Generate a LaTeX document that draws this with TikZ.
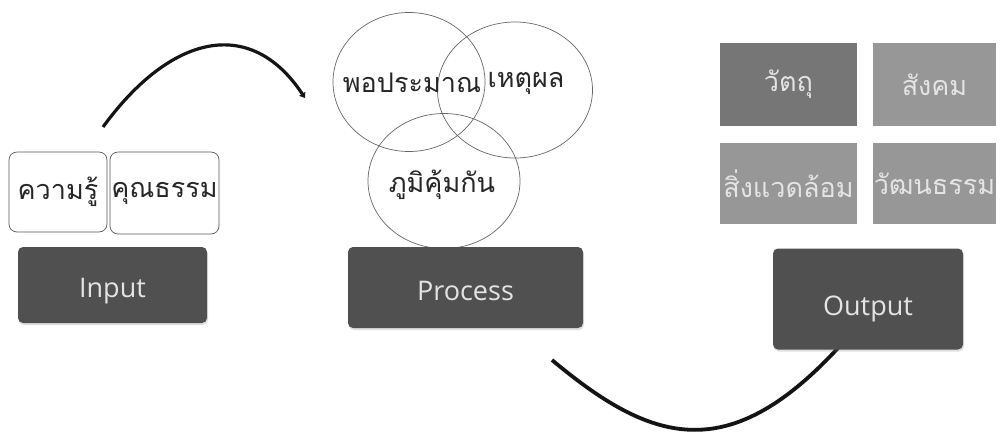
\documentclass[tikz,border=0pt]{standalone}
\usepackage{fontspec}
\setmainfont{Open Sans}
\newfontfamily\thaifont[Script=Thai]{Loma}
\usetikzlibrary{shapes.geometric,arrows.meta,shadows}
\definecolor{darkbg}{HTML}{505050}
\definecolor{gridA}{HTML}{767676}
\definecolor{gridB}{HTML}{979797}
\definecolor{lighttext}{HTML}{E4E4E4}
\begin{document}
\begin{tikzpicture}[x=1pt,y=-1pt,
  whitebox/.style={draw=black!65, line width=0.7pt, rounded corners=8pt, fill=white, inner sep=0pt,
    font=\thaifont\fontsize{27}{30}\selectfont, text=black!85},
  darkbox/.style={fill=darkbg, rounded corners=5pt, inner sep=0pt, text=lighttext,
    font=\fontsize{27}{32}\selectfont, text height=25pt, text depth=0pt,
    drop shadow={opacity=0.25, shadow xshift=1pt, shadow yshift=-2pt}},
  gridbox/.style={inner sep=0pt, text=lighttext, font=\thaifont\fontsize{27}{30}\selectfont},
  ring/.style={draw=black!60, line width=0.7pt, ellipse, inner sep=0pt},
  ringtext/.style={font=\thaifont\fontsize{27}{30}\selectfont, text=black!85, inner sep=0pt},
  arcline/.style={line width=3.2pt, black!92},
]
\useasboundingbox (0,0) rectangle (1006,432);
\fill[white] (0,0) rectangle (1006,432);

% bottom arc (drawn first, ends under Output box)
\coordinate (b1) at (552,360);
\coordinate (b2) at (838,348);
\draw[arcline, line width=3.8pt] (b1) .. controls (650,442) and (727,468) .. (b2);

% input side
\node[whitebox, minimum width=98pt, minimum height=80pt] (k1) at (58,192) {ความรู้};
\node[whitebox, minimum width=109pt, minimum height=82pt] (k2) at (164.5,193) {คุณธรรม};
\node[darkbox, minimum width=189pt, minimum height=76pt] (input) at (112.5,285) {Input};

% top arc
\coordinate (a1) at (103,127);
\coordinate (a2) at (305,98);
\draw[arcline, -{Triangle[length=5pt,width=7pt]}] (a1) .. controls (170,35) and (250,15) .. (a2);

% process circles
\node[ring, minimum width=152pt, minimum height=139pt] (e1) at (409,82) {};
\node[ring, minimum width=155pt, minimum height=136pt] (e2) at (515,90) {};
\node[ring, minimum width=152pt, minimum height=135pt] (e3) at (444,181) {};
\node[ringtext] (t1) at (412,83) {พอประมาณ};
\node[ringtext] (t2) at (526,83) {เหตุผล};
\node[ringtext] (t3) at (442,185) {ภูมิคุ้มกัน};
\node[darkbox, minimum width=235pt, minimum height=81pt] (process) at (465.5,287.5) {Process};

% output side
\node[gridbox, fill=gridA, minimum width=137pt, minimum height=83pt] (o1) at (788.5,84.5) {วัตถุ};
\node[gridbox, fill=gridB, minimum width=123pt, minimum height=83pt] (o2) at (934.5,84.5) {สังคม};
\node[gridbox, fill=gridB, minimum width=137pt, minimum height=81pt] (o3) at (788.5,183.5) {สิ่งแวดล้อม};
\node[gridbox, fill=gridB, minimum width=123pt, minimum height=81pt] (o4) at (934.5,183.5) {วัฒนธรรม};
\node[darkbox, minimum width=190pt, minimum height=101pt, text height=32pt] (output) at (868,299) {Output};
\end{tikzpicture}
\end{document}
